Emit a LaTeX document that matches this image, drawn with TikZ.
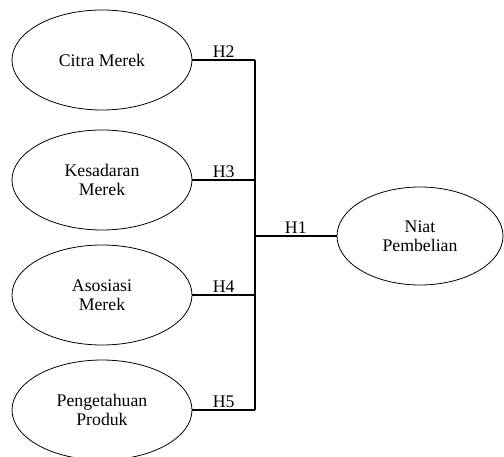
\documentclass[tikz,border=0pt]{standalone}
\usepackage{fontspec}
\setmainfont{Liberation Serif}
\usetikzlibrary{shapes.geometric}
\tikzset{
  var/.style={draw,ellipse,line width=0.8pt,inner sep=0pt,minimum width=180bp,
    minimum height=100bp,align=center,font=\fontsize{17.8}{19.5}\selectfont},
  path/.style={line width=1.1pt},
  hyp/.style={above,inner sep=2pt,font=\fontsize{17.8}{19.5}\selectfont}
}

\begin{document}
\begin{tikzpicture}[x=1bp,y=-1bp]
    \useasboundingbox (0,0) rectangle (504,457);
    % set coordinates
    \node [var] (CM) at (102,60) {Citra Merek};
    \node [var] (KM) at (102,180) {Kesadaran\\Merek};
    \node [var] (AM) at (102,295) {Asosiasi\\Merek};
    \node [var] (PP) at (102,410) {Pengetahuan\\Produk};
    \node [var,minimum width=166bp,minimum height=98bp] (NP) at (420,236) {Niat\\Pembelian};
    \coordinate (J) at (255,236);
    % draw figure
    \draw [path] (CM.east) -- node [hyp] {H2} (CM.east -| J) coordinate (JT);
    \draw [path] (KM.east) -- node [hyp] {H3} (KM.east -| J);
    \draw [path] (AM.east) -- node [hyp] {H4} (AM.east -| J);
    \draw [path] (PP.east) -- node [hyp] {H5} (PP.east -| J) coordinate (JB);
    \draw [path] (JT) -- (JB);
    \draw [path] (J) -- node [hyp] {H1} (NP.west);
\end{tikzpicture}
\end{document}
